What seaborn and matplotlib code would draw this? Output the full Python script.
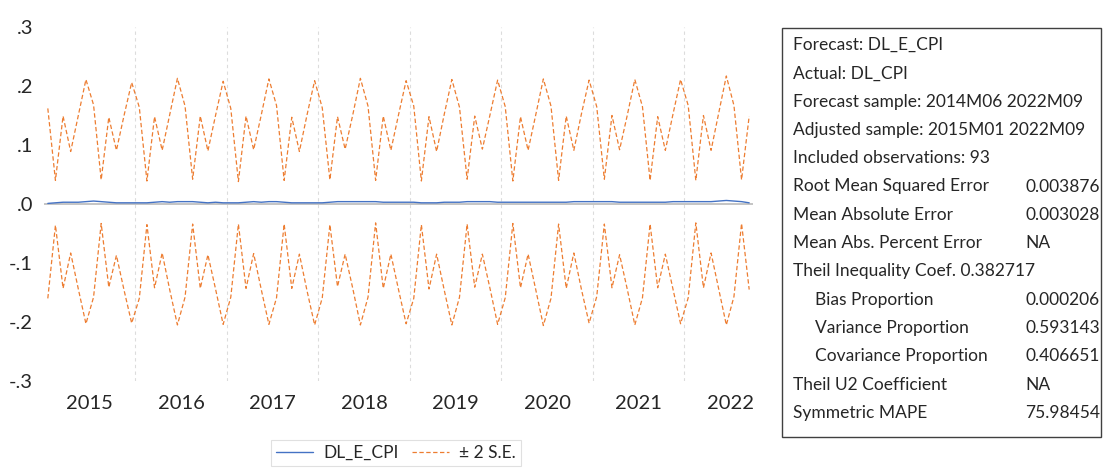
import matplotlib
matplotlib.use("Agg")
import matplotlib.pyplot as plt
import seaborn as sns
import numpy as np
import pandas as pd
from matplotlib.patches import Rectangle

# monthly forecast DL_E_CPI, 2015M01 .. 2022M09
forecast = [
    0.001, 0.002, 0.003, 0.003, 0.003, 0.004, 0.005, 0.004, 0.003, 0.002, 0.002, 0.002,
    0.002, 0.002, 0.003, 0.004, 0.003, 0.004, 0.004, 0.004, 0.003, 0.002, 0.003, 0.002,
    0.002, 0.002, 0.003, 0.004, 0.003, 0.004, 0.004, 0.003, 0.002, 0.002, 0.002, 0.002,
    0.002, 0.003, 0.004, 0.004, 0.004, 0.004, 0.004, 0.004, 0.003, 0.003, 0.003, 0.003,
    0.003, 0.002, 0.002, 0.002, 0.003, 0.003, 0.003, 0.004, 0.004, 0.004, 0.004, 0.003,
    0.003, 0.003, 0.003, 0.003, 0.003, 0.003, 0.003, 0.003, 0.003, 0.004, 0.004, 0.004,
    0.004, 0.004, 0.004, 0.003, 0.003, 0.003, 0.003, 0.003, 0.003, 0.003, 0.004, 0.004,
    0.004, 0.004, 0.004, 0.004, 0.005, 0.006, 0.005, 0.004, 0.002,
]

# two standard errors
two_se = [
    0.161, 0.038, 0.146, 0.086, 0.147, 0.207, 0.163, 0.037, 0.144, 0.089, 0.148, 0.204,
    0.162, 0.037, 0.145, 0.087, 0.149, 0.209, 0.162, 0.038, 0.146, 0.088, 0.147, 0.206,
    0.160, 0.036, 0.146, 0.088, 0.148, 0.208, 0.163, 0.037, 0.145, 0.087, 0.149, 0.207,
    0.161, 0.038, 0.144, 0.089, 0.147, 0.209, 0.162, 0.036, 0.146, 0.088, 0.148, 0.206,
    0.163, 0.037, 0.146, 0.087, 0.149, 0.208, 0.161, 0.038, 0.145, 0.089, 0.147, 0.207,
    0.162, 0.036, 0.145, 0.088, 0.148, 0.209, 0.163, 0.037, 0.146, 0.087, 0.149, 0.206,
    0.161, 0.038, 0.146, 0.089, 0.147, 0.208, 0.162, 0.037, 0.145, 0.088, 0.148, 0.207,
    0.163, 0.036, 0.146, 0.087, 0.149, 0.211, 0.162, 0.037, 0.147,
]

years = list(range(2015, 2023))
year_labels = [str(y) for y in years]

stat_names = ["Forecast: DL_E_CPI", "Actual: DL_CPI",
              "Forecast sample: 2014M06 2022M09",
              "Adjusted sample: 2015M01 2022M09",
              "Included observations: 93",
              "Root Mean Squared Error", "Mean Absolute Error",
              "Mean Abs. Percent Error", "Theil Inequality Coef. 0.382717",
              "Bias Proportion", "Variance Proportion", "Covariance Proportion",
              "Theil U2 Coefficient", "Symmetric MAPE"]
stat_values = ["", "", "", "", "", "0.003876", "0.003028", "NA", "",
               "0.000206", "0.593143", "0.406651", "NA", "75.98454"]
stat_indent = [0, 0, 0, 0, 0, 0, 0, 0, 0, 1, 1, 1, 0, 0]

BLUE = "#4472c4"
ORANGE = "#ed7d31"

sns.set_style("white")
plt.rcParams["font.family"] = ["Lato", "DejaVu Sans"]

t = 2015 + (np.arange(len(forecast)) + 0.5) / 12
df = pd.DataFrame({"t": t, "fc": forecast, "se2": two_se})
df["upper"] = df["fc"] + df["se2"]
df["lower"] = df["fc"] - df["se2"]

W, H = 1104, 468
fig = plt.figure(figsize=(W / 100, H / 100), dpi=100)
ax = fig.add_axes([44 / W, 1 - 381 / H, (753 - 44) / W, (381 - 27) / H])

for y in years[1:]:
    ax.axvline(y, color="#dcdcdc", lw=0.8, ls=(0, (3, 3)), zorder=0)
ax.axhline(0, color="#bfbfbf", lw=1.3, zorder=1)

sns.lineplot(data=df, x="t", y="fc", ax=ax, color=BLUE, lw=1.0, label="DL_E_CPI", zorder=3)
sns.lineplot(data=df, x="t", y="upper", ax=ax, color=ORANGE, lw=0.9, ls=(0, (3.5, 2)),
             label="\u00b1 2 S.E.", zorder=2)
sns.lineplot(data=df, x="t", y="lower", ax=ax, color=ORANGE, lw=0.9, ls=(0, (3.5, 2)),
             legend=False, zorder=2)

ax.set_xlim(2015.0, 2022.75)
ax.set_ylim(-0.3, 0.3)
ax.set_yticks([-0.3, -0.2, -0.1, 0.0, 0.1, 0.2, 0.3])
ax.set_yticklabels([f"{v:.1f}".replace("0.", ".") for v in ax.get_yticks()])
ax.set_xticks([y + 0.5 for y in years])
ax.set_xticklabels(year_labels)
ax.tick_params(axis="both", length=0, labelsize=14.5)
ax.tick_params(axis="y", pad=8)
ax.tick_params(axis="x", pad=10)
ax.set_xlabel("")
ax.set_ylabel("")
for s in ax.spines.values():
    s.set_visible(False)

ax.get_legend().remove()
h, l = ax.get_legend_handles_labels()
leg = fig.legend(h, l, loc="upper center", bbox_to_anchor=(396 / W, 1 - 440 / H),
                 ncol=2, frameon=True, fancybox=False, fontsize=12.5,
                 handlelength=2.1, handletextpad=0.6, columnspacing=0.8,
                 borderpad=0.3, borderaxespad=0)
leg.get_frame().set_edgecolor("#d9d9d9")
leg.get_frame().set_linewidth(0.8)

# statistics box
fig.patches.append(Rectangle((782 / W, 1 - 437 / H), (1101 - 782) / W, (437 - 28) / H,
                             transform=fig.transFigure, fill=False,
                             edgecolor="#404040", lw=1.0))
y0, dy = 45, 28.3
for i, (name, val, ind) in enumerate(zip(stat_names, stat_values, stat_indent)):
    yy = 1 - (y0 + i * dy) / H
    fig.text((793 + 22 * ind) / W, yy, name, fontsize=12.5, va="center", ha="left")
    if val:
        fig.text(1025 / W, yy, val, fontsize=12.5, va="center", ha="left")

fig.savefig("out.png", dpi=100)
